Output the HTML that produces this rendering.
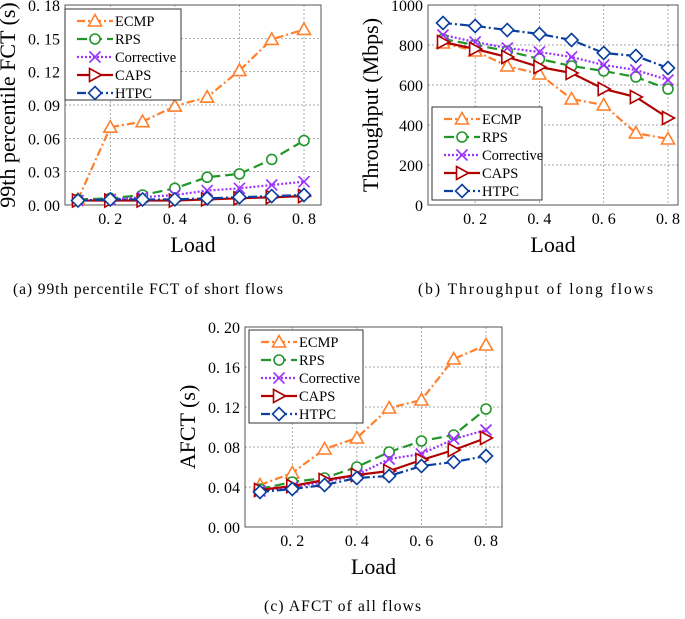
<!DOCTYPE html>
<html><head><meta charset="utf-8"><style>
body{margin:0;background:#fff;width:685px;height:619px;overflow:hidden}
svg{display:block;font-family:"Liberation Serif",serif}
svg text{font-family:"Liberation Serif",serif}
</style></head><body>
<svg id="s" width="685" height="619" viewBox="0 0 685 619">
<text x="13" y="294" font-size="15.5" textLength="270" lengthAdjust="spacing">(a)  99th percentile FCT of short flows</text>
<text x="418" y="294" font-size="15.5" textLength="235" lengthAdjust="spacing">(b)  Throughput of long flows</text>
<text x="264" y="611" font-size="15.5" textLength="157" lengthAdjust="spacing">(c)  AFCT of all flows</text>
</svg>
<script>
const loads=[0.1,0.2,0.3,0.4,0.5,0.6,0.7,0.8];
const xTicks=[0.2,0.4,0.6,0.8];
const xTickLabels=["0. 2","0. 4","0. 6","0. 8"];
const seriesNames=["ECMP","RPS","Corrective","CAPS","HTPC"];
const aECMP=[0.005,0.070,0.075,0.089,0.097,0.121,0.149,0.158];
const aRPS=[0.005,0.006,0.009,0.015,0.025,0.028,0.041,0.058];
const aCorr=[0.004,0.005,0.007,0.009,0.013,0.015,0.018,0.021];
const aCAPS=[0.004,0.004,0.004,0.004,0.005,0.006,0.007,0.008];
const aHTPC=[0.004,0.005,0.005,0.005,0.006,0.007,0.008,0.009];
const aTicks=[0,0.03,0.06,0.09,0.12,0.15,0.18];
const aTickLabels=["0. 00","0. 03","0. 06","0. 09","0. 12","0. 15","0. 18"];
const bECMP=[810,770,695,655,530,500,360,330];
const bRPS=[830,800,770,730,695,670,640,580];
const bCorr=[850,815,785,765,740,700,675,625];
const bCAPS=[815,780,740,690,660,580,540,435];
const bHTPC=[910,895,875,855,825,760,745,685];
const bTicks=[0,200,400,600,800,1000];
const bTickLabels=["0","200","400","600","800","1000"];
const cECMP=[0.042,0.054,0.078,0.089,0.119,0.127,0.168,0.182];
const cRPS=[0.038,0.045,0.049,0.060,0.075,0.086,0.092,0.118];
const cCorr=[0.036,0.040,0.045,0.052,0.068,0.073,0.088,0.097];
const cCAPS=[0.037,0.041,0.047,0.052,0.056,0.067,0.077,0.089];
const cHTPC=[0.035,0.038,0.042,0.049,0.051,0.061,0.065,0.071];
const cTicks=[0,0.04,0.08,0.12,0.16,0.20];
const cTickLabels=["0. 00","0. 04","0. 08","0. 12","0. 16","0. 20"];

const styles=[
 {c:"#ff7f2a",d:"8,3,2,3",m:"tri"},
 {c:"#22962a",d:"10,5",m:"circ"},
 {c:"#9b30ff",d:"2,2",m:"x"},
 {c:"#b00000",d:"",m:"rtri"},
 {c:"#0a3fa0",d:"9,3,2,3",m:"dia"}];
const NS="http://www.w3.org/2000/svg";
const svg=document.getElementById('s');
function mk(t,a,p){const e=document.createElementNS(NS,t);for(const k in a)e.setAttribute(k,a[k]);if(t=="text")e.setAttribute("font-family","Liberation Serif, serif");(p||svg).appendChild(e);return e;}
function marker(g,m,x,y,c){
 let e;
 if(m=="tri")e=mk("polygon",{points:`${x},${y-6.5} ${x-6.5},${y+5} ${x+6.5},${y+5}`,fill:"#fff",stroke:c,"stroke-width":1.6},g);
 else if(m=="circ")e=mk("circle",{cx:x,cy:y,r:5,fill:"#fff",stroke:c,"stroke-width":1.6},g);
 else if(m=="x")e=mk("path",{d:`M${x-5.5} ${y-5.5}L${x+5.5} ${y+5.5}M${x-5.5} ${y+5.5}L${x+5.5} ${y-5.5}`,stroke:c,"stroke-width":1.6},g);
 else if(m=="rtri")e=mk("polygon",{points:`${x-5.5},${y-6.5} ${x+6.5},${y} ${x-5.5},${y+6.5}`,fill:"#fff",stroke:c,"stroke-width":1.6},g);
 else e=mk("polygon",{points:`${x},${y-6.5} ${x+6.5},${y} ${x},${y+6.5} ${x-6.5},${y}`,fill:"#fff",stroke:c,"stroke-width":1.6},g);
 
 
}
function chart(id,L,R,T,B,x0,x1,ymax,yTicks,yLabels,ytitle,data,leg){
 const g=mk("g",{});
 
 
 const sx=v=>x0+(v-0.1)/0.7*(x1-x0);
 const sy=v=>B-v/ymax*(B-T);
 yTicks.forEach((t,i)=>{
  const y=sy(t);
  if(i>0&&i<yTicks.length-1)mk("line",{x1:L,x2:R,y1:y,y2:y,stroke:"#888","stroke-width":0.7,"stroke-dasharray":"2,2"},g);
  const tx=mk("text",{x:L-5,y:y+6,"font-size":16,"text-anchor":"end"},g);tx.textContent=yLabels[i];
  
  
 });
 xTicks.forEach((t,i)=>{
  const x=sx(t);
  mk("line",{x1:x,x2:x,y1:T,y2:B,stroke:"#888","stroke-width":0.7,"stroke-dasharray":"2,2"},g);
  const tx=mk("text",{x:x,y:B+19,"font-size":16,"text-anchor":"middle"},g);tx.textContent=xTickLabels[i];
  
  
 });
 const fr=mk("rect",{x:L,y:T,width:R-L,height:B-T,fill:"none",stroke:"#555","stroke-width":1},g);
 
 
 const xl=mk("text",{x:(L+R)/2,y:B+47,"font-size":22,"text-anchor":"middle"},g);xl.textContent="Load";
 
 
 const yt=mk("text",{x:0,y:0,"font-size":22,"text-anchor":"middle",transform:`translate(${L-(ytitle.o)},${(T+B)/2}) rotate(-90)`},g);yt.textContent=ytitle.t;
 
 
 data.forEach((arr,k)=>{
  const st=styles[k];
  const pts=arr.map((v,i)=>`${sx(loads[i])},${sy(v)}`).join(" ");
  const pl=mk("polyline",{points:pts,fill:"none",stroke:st.c,"stroke-width":2.2,"stroke-dasharray":st.d},g);
  
  
  arr.forEach((v,i)=>marker(g,st.m,sx(loads[i]),sy(v),st.c));
 });
 const lg=mk("g",{},g);
 
 
 mk("rect",{x:leg.x,y:leg.y,width:leg.w,height:leg.h,fill:"#fff",stroke:"#333","stroke-width":1},lg);
 seriesNames.forEach((n,k)=>{
  const st=styles[k];const y=leg.y+12+k*18;
  mk("line",{x1:leg.x+12,x2:leg.x+48,y1:y,y2:y,stroke:st.c,"stroke-width":2.2,"stroke-dasharray":st.d},lg);
  marker(lg,st.m,leg.x+30,y,st.c);
  const t=mk("text",{x:leg.x+50,y:y+5,"font-size":14.5},lg);t.textContent=n;
  
  
 });
}
chart("chart-short-fct",65,321,5,205,78,304,0.18,aTicks,aTickLabels,{t:"99th percentile FCT (s)",o:50},[aECMP,aRPS,aCorr,aCAPS,aHTPC],{x:65,y:9,w:116,h:91});
chart("chart-throughput",428,678,5,205,443,668,1000,bTicks,bTickLabels,{t:"Throughput (Mbps)",o:50},[bECMP,bRPS,bCorr,bCAPS,bHTPC],{x:432,y:107,w:110,h:93});
chart("chart-afct",245,502,327,527,260,486,0.20,cTicks,cTickLabels,{t:"AFCT (s)",o:50},[cECMP,cRPS,cCorr,cCAPS,cHTPC],{x:249,y:330,w:114,h:93});
</script>
</body></html>
